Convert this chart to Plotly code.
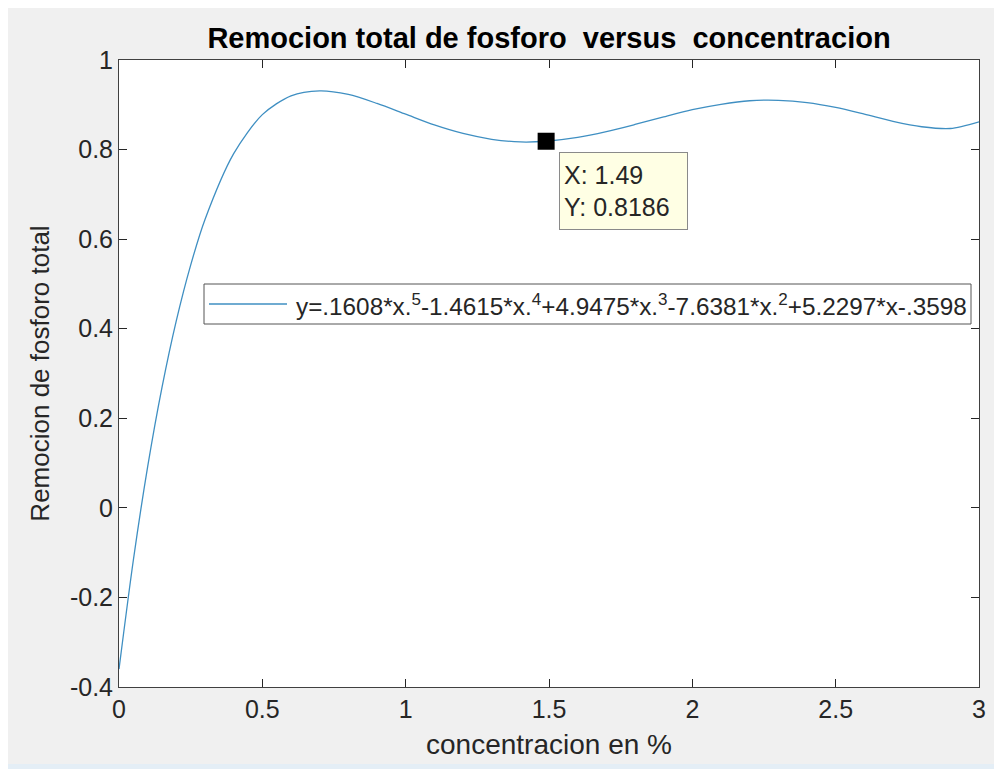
import plotly.graph_objects as go

# values
conc = [0, 0.05, 0.1, 0.15, 0.2, 0.25, 0.3, 0.4, 0.5, 0.6, 0.7, 0.8, 0.9, 1.0,
        1.1, 1.2, 1.3, 1.4, 1.49, 1.6, 1.7, 1.8, 1.9, 2.0, 2.1, 2.2, 2.3, 2.4,
        2.5, 2.6, 2.7, 2.8, 2.9, 3.0]
remocion = [-0.360, -0.117, 0.092, 0.269, 0.418, 0.542, 0.644, 0.791, 0.878,
            0.920, 0.931, 0.923, 0.903, 0.879, 0.855, 0.836, 0.823, 0.817,
            0.8186, 0.827, 0.840, 0.856, 0.873, 0.889, 0.901, 0.909, 0.910,
            0.905, 0.894, 0.879, 0.863, 0.851, 0.847, 0.862]
tip_x = [1.49]
tip_y = [0.8186]
x_ticks = [0, 0.5, 1, 1.5, 2, 2.5, 3]
x_tick_labels = ["0", "0.5", "1", "1.5", "2", "2.5", "3"]
y_ticks = [-0.4, -0.2, 0, 0.2, 0.4, 0.6, 0.8, 1]
y_tick_labels = ["-0.4", "-0.2", "0", "0.2", "0.4", "0.6", "0.8", "1"]
legend_text = ("y=.1608*x.<sup>5</sup>-1.4615*x.<sup>4</sup>+4.9475*x.<sup>3</sup>"
               "-7.6381*x.<sup>2</sup>+5.2297*x-.3598")

LINE_COLOR = "#3f8fc2"
AX_COLOR = "#262626"
FONT = "Liberation Sans, Arial, sans-serif"

# the page body adds an 8px offset; figure sized to fill the rest of the window
W, H = 994, 761
L, R, T, B = 111, 23, 52, 82
PW, PH = W - L - R, H - T - B


def px_x(p):
    return (p - L) / PW


def px_y(p):
    return (H - B - p) / PH


fig = go.Figure()
fig.add_trace(go.Scatter(x=conc, y=remocion, mode="lines",
                         line=dict(color=LINE_COLOR, width=1.3, shape="spline", smoothing=0.8),
                         showlegend=False, hoverinfo="skip"))
fig.add_trace(go.Scatter(x=tip_x, y=tip_y, mode="markers",
                         marker=dict(symbol="square", size=17, color="black"),
                         showlegend=False, hoverinfo="skip"))

shapes = [
    dict(type="rect", xref="paper", yref="paper", x0=px_x(0), x1=px_x(W), y0=px_y(H), y1=px_y(756),
         fillcolor="#e4eef6", line_width=0, layer="below"),
    # legend box
    dict(type="rect", xref="paper", yref="paper", x0=px_x(196), x1=px_x(963), y0=px_y(316), y1=px_y(276),
         fillcolor="white", line=dict(color="#555555", width=1)),
    dict(type="line", xref="paper", yref="paper", x0=px_x(201), x1=px_x(279), y0=px_y(296), y1=px_y(296),
         line=dict(color=LINE_COLOR, width=1.3)),
]

annotations = [
    dict(text=legend_text, xref="paper", yref="paper", x=px_x(286), y=px_y(297),
         xanchor="left", yanchor="middle", showarrow=False,
         font=dict(family=FONT, size=24.3, color=AX_COLOR)),
    dict(text="X: 1.49<br>Y: 0.8186", xref="x", yref="y", x=tip_x[0], y=tip_y[0],
         xanchor="left", yanchor="top", xshift=13, yshift=-11, showarrow=False,
         align="left", width=119, height=68, borderpad=4, borderwidth=1,
         bgcolor="#ffffe4", bordercolor="#8a8a8a",
         font=dict(family=FONT, size=25, color=AX_COLOR)),
]

fig.update_layout(
    width=W, height=H,
    margin=dict(l=L, r=R, t=T, b=B),
    paper_bgcolor="#f0f0f0",
    plot_bgcolor="white",
    font=dict(family=FONT, size=25, color=AX_COLOR),
    title=dict(text="<b>Remocion total de fosforo\u00a0 versus\u00a0 concentracion</b>",
               xref="container", x=541 / W, xanchor="center", y=1 - 30 / H, yanchor="middle",
               font=dict(family=FONT, size=29, color="black")),
    shapes=shapes,
    annotations=annotations,
    xaxis=dict(range=[0, 3], tickvals=x_ticks, ticktext=x_tick_labels,
               ticks="inside", ticklen=8, tickcolor=AX_COLOR, showline=True,
               linecolor="#404040", linewidth=1, mirror="ticks", showgrid=False,
               zeroline=False, title=dict(text="concentracion en %", standoff=12,
                                          font=dict(size=28))),
    yaxis=dict(range=[-0.4, 1], tickvals=y_ticks, ticktext=y_tick_labels,
               ticks="inside", ticklen=8, tickcolor=AX_COLOR, showline=True,
               linecolor="#404040", linewidth=1, mirror="ticks", showgrid=False,
               zeroline=False, title=dict(text="Remocion de fosforo total", standoff=12,
                                          font=dict(size=26))),
)

fig.write_html("out.html")
